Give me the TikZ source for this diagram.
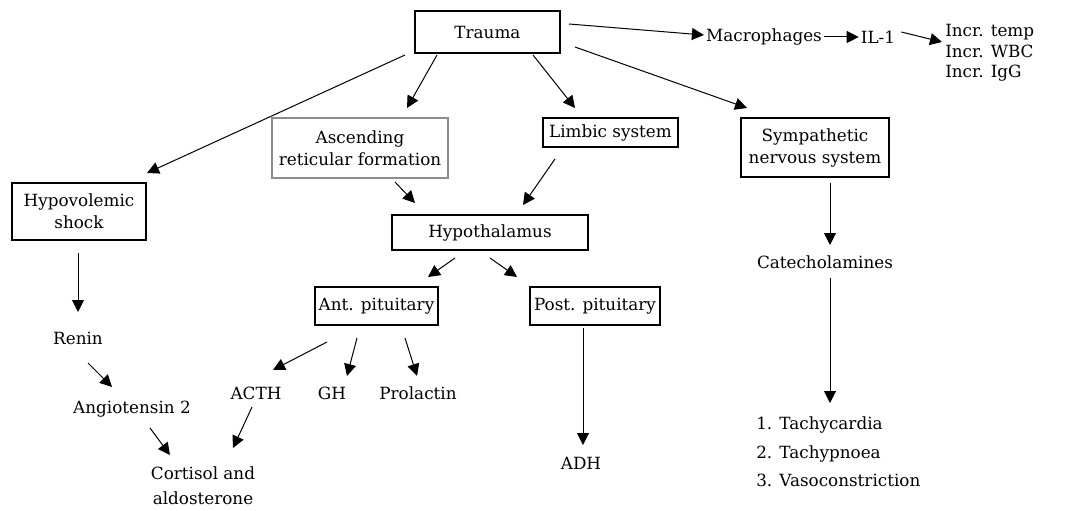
\documentclass[tikz,border=0pt]{standalone}
\usepackage{fontspec}
\setmainfont{DejaVu Serif}
\usetikzlibrary{arrows.meta}
\begin{document}
\begin{tikzpicture}[x=0.75pt,y=-0.75pt,
  font=\fontsize{12.6}{14.5}\selectfont,
  box/.style={draw=black,line width=1pt,inner sep=0pt,align=center},
  greybox/.style={draw=black!45,line width=1.6pt,inner sep=0pt,align=center},
  txt/.style={inner sep=0pt,align=center},
  arr/.style={line width=0.75pt,-{Triangle[length=9pt,width=9pt]}}]
\useasboundingbox (0,0) rectangle (1066,510);
% boxes
\node[box,minimum width=108.75pt,minimum height=31.5pt] (trauma) at (487.5,32) {Trauma};
\node[box,minimum width=100.5pt,minimum height=42.75pt] (hypo) at (79,211.5) {Hypovolemic\\[2pt]shock};
\node[greybox,minimum width=132pt,minimum height=45pt] (asc) at (360,148) {Ascending\\[2pt]reticular formation};
\node[box,minimum width=101.25pt,minimum height=21.75pt] (limbic) at (610.5,132.5) {Limbic system};
\node[box,minimum width=111pt,minimum height=44.25pt] (symp) at (815,147.5) {Sympathetic\\[2pt]nervous system};
\node[box,minimum width=147pt,minimum height=26.25pt] (hypoth) at (490,232.5) {Hypothalamus};
\node[box,minimum width=92.25pt,minimum height=28.5pt] (ant) at (376.5,306) {Ant. pituitary};
\node[box,minimum width=97.5pt,minimum height=28.5pt] (post) at (595,306) {Post. pituitary};
% plain texts
\node[txt] (macro) at (764,37) {Macrophages};
\node[txt] (il1) at (878,37) {IL-1};
\node[txt,align=left,anchor=west,font=\fontsize{12.6}{15.4}\selectfont] (incr) at (945,53) {Incr. temp\\Incr. WBC\\Incr. IgG};
\node[txt] (catech) at (825,262) {Catecholamines};
\node[txt,align=left,anchor=west,font=\fontsize{12.6}{21.4}\selectfont] (list) at (756,452) {1. Tachycardia\\2. Tachypnoea\\3. Vasoconstriction};
\node[txt] (renin) at (78,338) {Renin};
\node[txt] (angio) at (132,409) {Angiotensin 2};
\node[txt] (acth) at (256,393) {ACTH};
\node[txt] (gh) at (332,393) {GH};
\node[txt] (prol) at (418,393) {Prolactin};
\node[txt,font=\fontsize{12.6}{18.75}\selectfont] (cort) at (203,485.5) {Cortisol and\\aldosterone};
\node[txt] (adh) at (581,463) {ADH};
% arrows
\draw[arr] ([shift={(81.5,-8)}]trauma.center) -- ([shift={(-2,-2)}]macro.west);
\draw[arr] ([shift={(2,0)}]macro.east) -- ([shift={(-2,0)}]il1.west);
\draw[arr] ([shift={(6,-5)}]il1.east) -- ([shift={(-3,-11)}]incr.west);
\draw[arr] ([shift={(-82.5,23)}]trauma.center) -- ([shift={(68,-38.5)}]hypo.center);
\draw[arr] ([shift={(-50.5,23)}]trauma.center) -- ([shift={(47,-40)}]asc.center);
\draw[arr] ([shift={(45.5,23)}]trauma.center) -- ([shift={(-35.5,-24.5)}]limbic.center);
\draw[arr] ([shift={(87.5,15)}]trauma.center) -- ([shift={(-68,-39.5)}]symp.center);
\draw[arr] ([shift={(35,34)}]asc.center) -- ([shift={(-75,-29.5)}]hypoth.center);
\draw[arr] ([shift={(-55.5,26.5)}]limbic.center) -- ([shift={(33,-27.5)}]hypoth.center);
\draw[arr] ([shift={(15,35.5)}]symp.center) -- ([shift={(5,-17)}]catech.center);
\draw[arr] ([shift={(5,16)}]catech.center) -- ([shift={(74,-49)}]list.west);
\draw[arr] ([shift={(-35,25.5)}]hypoth.center) -- ([shift={(51.5,-29)}]ant.center);
\draw[arr] ([shift={(0,25.5)}]hypoth.center) -- ([shift={(-78,-29)}]post.center);
\draw[arr] ([shift={(-12,22)}]post.center) -- ([shift={(2,-18)}]adh.center);
\draw[arr] ([shift={(-49.5,36)}]ant.center) -- ([shift={(17,-23)}]acth.center);
\draw[arr] ([shift={(-19.5,32)}]ant.center) -- ([shift={(15,-17)}]gh.center);
\draw[arr] ([shift={(28.5,32)}]ant.center) -- ([shift={(-1,-17)}]prol.center);
\draw[arr] ([shift={(-4,14)}]acth.center) -- ([shift={(30,-37.5)}]cort.center);
\draw[arr] ([shift={(-1,41.5)}]hypo.center) -- ([shift={(0,-26)}]renin.center);
\draw[arr] ([shift={(10,25)}]renin.center) -- ([shift={(-20,-22)}]angio.center);
\draw[arr] ([shift={(18,19)}]angio.center) -- ([shift={(-33,-30.5)}]cort.center);
\end{tikzpicture}
\end{document}
